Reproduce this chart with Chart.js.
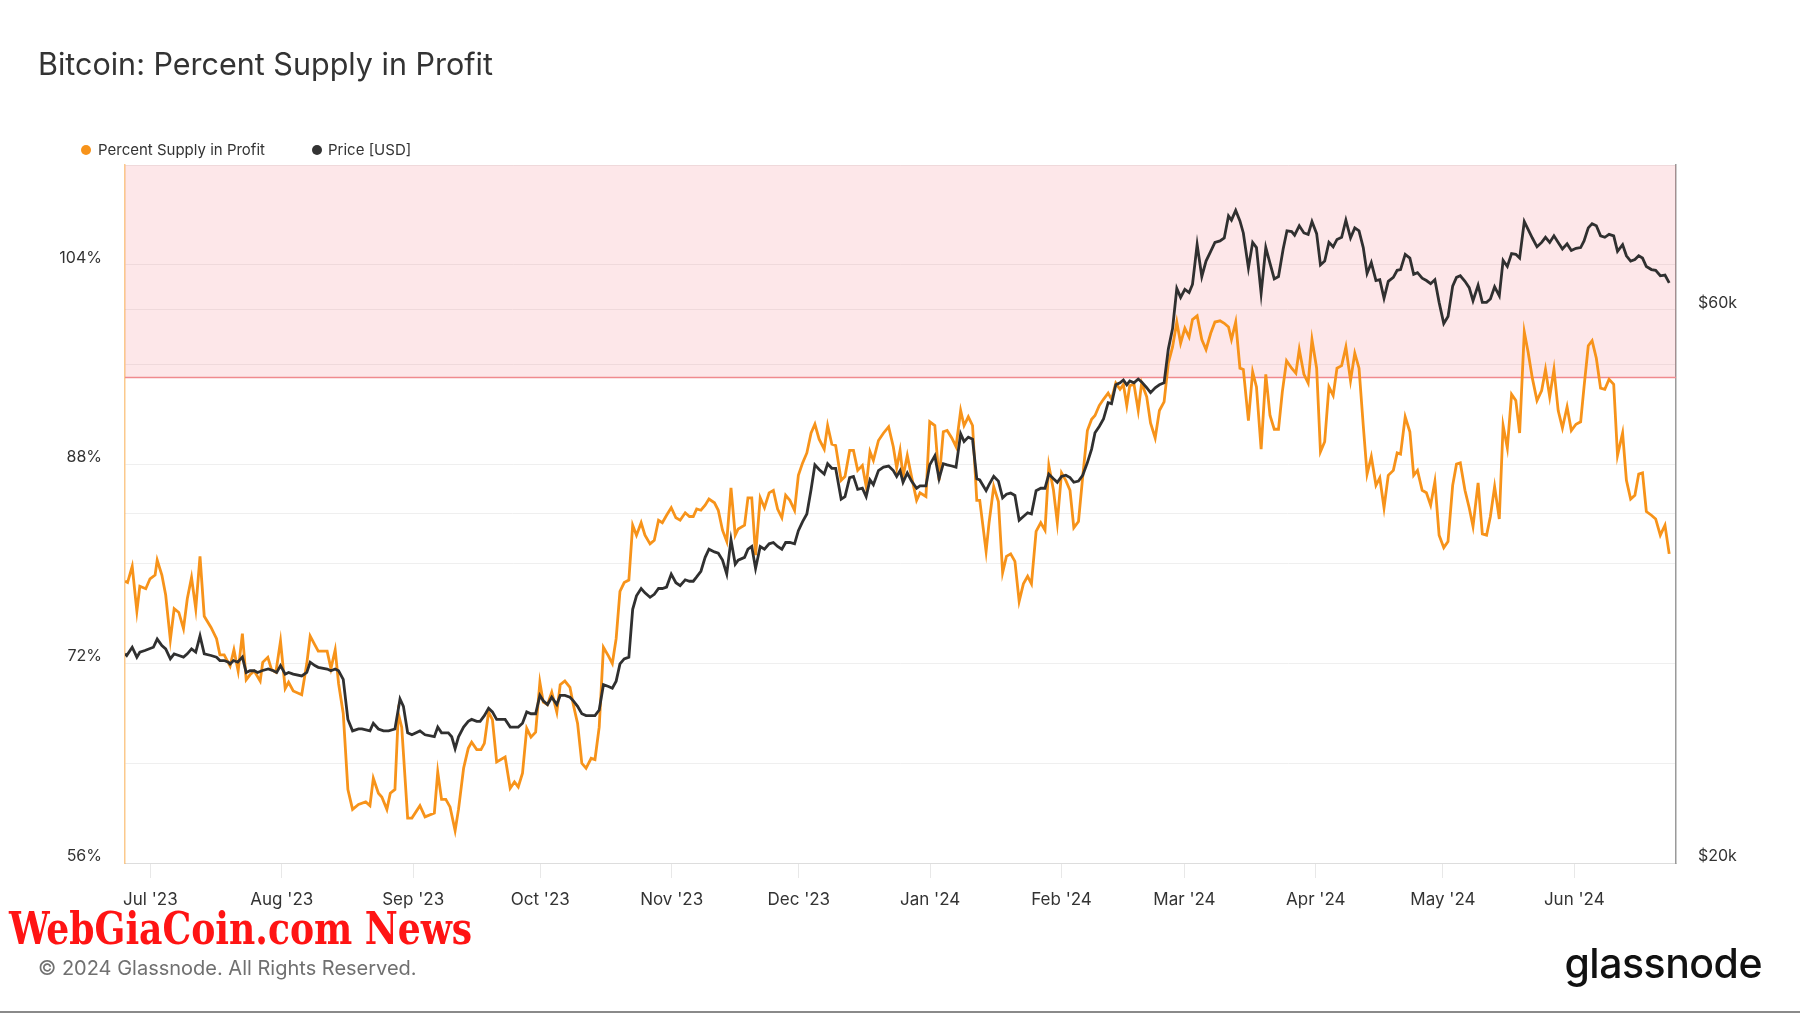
<!DOCTYPE html>
<html lang="en">
<head>
  <meta charset="UTF-8" />
  <title>Bitcoin: Percent Supply in Profit</title>
  <script src="https://cdn.jsdelivr.net/npm/chart.js"></script>
  <style>
    * { margin: 0; padding: 0; box-sizing: border-box; }
    body {
      width: 1800px; height: 1013px; overflow: hidden; position: relative;
      background: #fff; font-family: "Inter", sans-serif; color: #333;
    }
    #chart { position: absolute; left: 0; top: 0; }
    .title { position: absolute; left: 38px; top: 49px; font-size: 30.5px; line-height: 1; color: #333; }
    .legend-item { position: absolute; top: 142px; font-size: 15px; line-height: 1; color: #333; white-space: nowrap; }
    .dot { position: absolute; width: 10px; height: 10px; border-radius: 50%; top: 145px; }
    .watermark {
      position: absolute; left: 9px; top: 906px; font-family: "DejaVu Serif Condensed", "DejaVu Serif", serif;
      font-weight: bold; font-size: 45px; line-height: 1; color: #ff1414; white-space: nowrap; transform-origin: left top;
    }
    .copyright { position: absolute; left: 38px; top: 958px; font-size: 20px; line-height: 1; color: #707070; }
    .brand { position: absolute; right: 38px; top: 943px; font-size: 41px; line-height: 1; font-weight: 500; color: #111; letter-spacing: -0.5px; }
    .bottom-rule { position: absolute; left: 0; top: 1011px; width: 1800px; height: 2px; background: #8a8a8a; }
  </style>
</head>
<body>
  <canvas id="chart" width="1800" height="1013"></canvas>

  <div class="title">Bitcoin: Percent Supply in Profit</div>
  <span class="dot" style="left:81px;background:#f7931a"></span>
  <div class="legend-item" style="left:98px">Percent Supply in Profit</div>
  <span class="dot" style="left:312px;background:#333"></span>
  <div class="legend-item" style="left:328px">Price [USD]</div>

  <div class="watermark" id="wm">WebGiaCoin.com News</div>
  <div class="copyright">© 2024 Glassnode. All Rights Reserved.</div>
  <div class="brand">glassnode</div>
  <div class="bottom-rule"></div>

  <script>
    // days counted from 2023-06-25
    const START = Date.UTC(2023, 5, 25);

    const tickDates = ["2023-07-01", "2023-08-01", "2023-09-01", "2023-10-01", "2023-11-01", "2023-12-01",
                       "2024-01-01", "2024-02-01", "2024-03-01", "2024-04-01", "2024-05-01", "2024-06-01"];
    const monthLabels = ["Jul '23", "Aug '23", "Sep '23", "Oct '23", "Nov '23", "Dec '23",
                         "Jan '24", "Feb '24", "Mar '24", "Apr '24", "May '24", "Jun '24"];

    const pctTicks = [56, 64, 72, 80, 88, 96, 104, 112];
    const pctLabelled = [56, 72, 88, 104];
    const priceTicksK = [20, 40, 60];
    const priceLabelledK = [20, 60];
    const bandFrom = 95;

    const supplyDay = [
      0, 0.6, 1.7, 2.8, 3.5, 4.9, 5.9, 7.1, 7.6, 8.7,
      9.6, 10.7, 11.6, 12.7, 13.8, 14.7, 15.7, 16.7, 17.7, 18.7,
      20.3, 21.6, 22.4, 23.4, 24.8, 25.7, 26.7, 27.7, 28.6, 29.5,
      30.5, 31.9, 32.5, 33.7, 34.6, 35.6, 36.7, 37.8, 38.6, 39.7,
      41.7, 42.9, 43.7, 44.8, 45.6, 47.7, 48.6, 49.6, 50.4, 51.5,
      52.6, 53.7, 55.1, 56.8, 57.8, 58.6, 59.8, 60.6, 61.8, 62.6,
      63.7, 64.5, 65.3, 66.7, 67.7, 69.6, 70.8, 73.0, 73.8, 74.7,
      75.7, 76.7, 77.9, 78.7, 79.9, 81.0, 81.8, 83.0, 84.0, 84.8,
      85.8, 86.7, 87.7, 89.7, 90.9, 91.9, 92.8, 93.8, 94.8, 95.8,
      96.9, 97.9, 98.7, 99.7, 100.7, 101.9, 102.7, 103.8, 105.0, 105.8,
      106.8, 107.8, 108.8, 110.0, 110.9, 111.9, 112.9, 114.1, 115.0, 115.9,
      116.8, 117.8, 118.9, 119.8, 120.7, 121.8, 122.7, 123.9, 124.9, 125.9,
      126.8, 127.8, 128.9, 130.0, 131.0, 132.2, 133.2, 134.1, 134.9, 135.9,
      136.9, 137.8, 139.1, 140.0, 141.0, 142.0, 143.0, 144.0, 144.7, 146.2,
      147.0, 147.9, 148.8, 149.9, 150.9, 152.0, 153.0, 154.0, 155.0, 155.9,
      156.9, 158.0, 158.9, 159.9, 160.9, 161.9, 162.8, 163.8, 165.0, 165.8,
      166.8, 167.7, 169.0, 169.9, 171.0, 171.9, 172.9, 174.0, 174.9, 175.8,
      176.6, 177.8, 179.0, 180.2, 181.3, 182.1, 182.9, 183.6, 184.6, 185.6,
      186.8, 187.6, 189.0, 189.9, 191.1, 192.1, 193.1, 194.0, 195.1, 196.1,
      197.2, 198.0, 199.0, 200.0, 201.0, 201.7, 203.2, 203.9, 205.0, 206.1,
      207.1, 208.0, 209.0, 210.0, 211.0, 212.0, 213.0, 213.9, 215.0, 216.1,
      217.1, 218.0, 219.1, 220.0, 221.0, 222.0, 223.0, 223.9, 225.0, 226.0,
      227.1, 228.1, 228.9, 229.9, 230.9, 232.0, 232.8, 233.8, 234.8, 235.6,
      236.4, 237.1, 238.1, 239.1, 239.9, 241.1, 242.0, 243.1, 244.1, 245.2,
      246.2, 247.2, 248.2, 249.1, 250.1, 251.1, 251.9, 253.0, 254.1, 255.1,
      256.2, 257.2, 258.4, 259.4, 260.4, 261.1, 262.1, 263.1, 263.9, 265.1,
      266.1, 267.0, 268.1, 269.2, 270.2, 271.2, 272.2, 273.1, 274.1, 275.3,
      276.3, 277.1, 278.2, 279.2, 280.1, 281.2, 282.1, 283.1, 284.1, 285.1,
      286.0, 287.1, 288.1, 289.2, 290.2, 291.2, 292.2, 293.1, 294.1, 295.2,
      296.1, 297.1, 298.1, 299.3, 300.2, 301.0, 302.1, 303.2, 304.1, 305.0,
      306.1, 307.1, 308.1, 309.1, 310.1, 311.2, 312.2, 313.3, 314.2, 315.1,
      316.2, 317.2, 318.1, 319.3, 320.3, 321.3, 322.2, 323.2, 324.3, 325.2,
      326.2, 327.2, 328.2, 329.1, 330.2, 331.1, 332.1, 333.2, 334.3, 335.2,
      336.2, 337.2, 338.2, 339.2, 340.3, 341.3, 342.4, 343.5, 344.3, 345.3,
      346.2, 347.2, 348.2, 349.2, 350.2, 351.3, 352.2, 353.4, 354.3, 355.3,
      356.3, 357.2, 358.1, 359.0, 360.2, 361.2, 362.3, 363.4, 364.4
    ];
    const supplyPct = [
      78.6, 78.5, 79.8, 76.2, 78.2, 78.0, 78.8, 79.1, 80.3, 79.1,
      77.5, 73.9, 76.4, 76.1, 74.8, 77.2, 78.9, 76.4, 80.6, 75.8,
      74.9, 74.0, 72.7, 72.7, 71.8, 73.1, 71.4, 74.4, 70.7, 71.1,
      71.4, 70.6, 72.1, 72.5, 71.5, 71.3, 73.8, 70.0, 70.5, 69.8,
      69.5, 72.0, 74.2, 73.5, 73.0, 73.0, 71.6, 73.1, 70.4, 68.0,
      61.9, 60.3, 60.7, 60.9, 60.6, 62.8, 61.6, 61.3, 60.3, 61.6,
      61.9, 68.0, 66.9, 59.6, 59.6, 60.6, 59.7, 60.0, 63.3, 61.1,
      61.1, 60.5, 58.6, 60.3, 63.6, 65.2, 65.7, 65.1, 65.1, 65.6,
      68.1, 67.5, 64.1, 64.5, 62.0, 62.5, 62.1, 63.2, 66.8, 66.1,
      66.5, 70.5, 68.9, 68.7, 69.7, 68.1, 70.3, 70.6, 70.1, 68.7,
      67.2, 64.0, 63.6, 64.4, 64.3, 66.9, 73.3, 72.6, 72.0, 74.0,
      77.8, 78.5, 78.7, 83.1, 82.3, 83.3, 82.3, 81.6, 81.9, 83.5,
      83.3, 83.9, 84.5, 83.7, 83.5, 84.1, 83.8, 83.8, 84.4, 84.3,
      84.7, 85.2, 84.9, 84.3, 82.7, 81.8, 86.1, 82.3, 82.8, 83.1,
      85.3, 85.3, 80.7, 85.3, 84.5, 85.7, 85.9, 84.4, 83.7, 85.5,
      85.1, 84.3, 87.1, 88.1, 88.9, 90.5, 91.2, 90.0, 89.2, 91.1,
      89.6, 89.5, 86.7, 87.0, 89.1, 89.1, 87.5, 87.9, 86.2, 89.0,
      88.3, 89.9, 90.5, 91.0, 89.4, 87.7, 89.1, 87.0, 88.7, 87.0,
      85.1, 85.7, 85.4, 91.4, 91.1, 86.7, 90.6, 90.7, 90.1, 89.4,
      92.3, 91.1, 91.8, 91.1, 85.1, 85.1, 81.0, 83.3, 86.2, 85.0,
      79.3, 80.6, 80.8, 80.2, 77.0, 78.4, 79.0, 78.4, 82.6, 83.3,
      82.7, 87.9, 85.9, 83.3, 87.3, 86.7, 85.9, 82.9, 83.4, 87.0,
      90.7, 91.6, 91.9, 92.7, 93.2, 93.7, 93.2, 94.5, 94.0, 94.4,
      92.7, 94.3, 94.4, 92.3, 94.5, 93.4, 91.3, 90.1, 92.3, 93.0,
      96.1, 97.4, 99.4, 97.7, 98.9, 98.2, 99.6, 99.9, 98.0, 97.2,
      98.5, 99.4, 99.5, 99.3, 99.0, 98.0, 99.4, 95.7, 95.6, 91.5,
      95.4, 94.2, 89.2, 95.2, 91.9, 90.8, 90.8, 93.8, 96.3, 95.7,
      95.3, 97.2, 95.2, 94.5, 98.0, 95.7, 89.0, 89.8, 94.2, 93.5,
      95.7, 95.9, 97.4, 94.7, 96.9, 95.7, 91.1, 87.2, 88.6, 86.3,
      86.9, 84.5, 87.1, 87.5, 88.9, 88.8, 91.8, 90.6, 87.1, 87.5,
      85.9, 85.7, 84.7, 86.6, 82.3, 81.3, 81.8, 86.3, 88.0, 88.1,
      85.9, 84.5, 83.0, 86.5, 82.4, 82.3, 83.8, 86.2, 83.6, 91.1,
      89.3, 93.6, 93.1, 90.5, 98.6, 97.0, 94.9, 93.1, 93.9, 95.6,
      93.4, 95.6, 92.3, 90.9, 92.6, 90.7, 91.2, 91.4, 94.2, 97.5,
      97.9, 96.5, 94.1, 94.0, 94.8, 94.4, 88.7, 90.5, 86.7, 85.2,
      85.5, 87.2, 87.3, 84.2, 83.9, 83.6, 82.3, 83.1, 80.8
    ];

    const priceDay = [
      0, 0.4, 1.7, 2.8, 3.5, 4.7, 6.7, 7.6, 8.7, 9.6,
      10.7, 11.6, 12.7, 13.8, 14.7, 15.7, 16.7, 17.7, 18.7, 20.3,
      21.6, 22.4, 23.4, 24.4, 24.8, 25.6, 26.6, 27.7, 28.6, 29.5,
      30.5, 31.3, 32.3, 33.8, 35.0, 35.8, 36.7, 37.8, 38.6, 39.7,
      41.7, 42.9, 43.7, 44.8, 45.6, 47.7, 48.6, 49.6, 50.4, 51.5,
      52.6, 53.7, 55.1, 55.9, 57.8, 58.6, 59.8, 61.0, 62.2, 63.7,
      64.9, 65.7, 66.7, 67.7, 69.6, 70.8, 73.0, 73.8, 74.7, 76.3,
      77.1, 77.9, 78.7, 79.9, 81.0, 81.8, 83.0, 83.8, 84.8, 85.8,
      86.7, 87.7, 89.7, 90.9, 91.9, 92.8, 93.8, 94.8, 95.8, 96.9,
      97.9, 98.7, 99.7, 100.7, 101.9, 102.7, 103.8, 105.0, 105.8, 106.8,
      107.8, 108.8, 110.0, 110.9, 111.9, 112.9, 114.1, 115.0, 115.9, 116.8,
      117.8, 118.9, 119.8, 120.7, 121.8, 122.7, 123.9, 124.9, 125.9, 126.8,
      127.8, 128.9, 130.0, 131.0, 132.2, 133.2, 134.1, 134.9, 135.9, 136.9,
      137.8, 139.1, 140.0, 141.0, 142.0, 143.0, 144.0, 144.7, 146.2, 147.0,
      147.9, 148.8, 149.9, 150.9, 152.0, 153.0, 154.0, 155.0, 155.9, 156.9,
      158.0, 158.9, 159.9, 160.9, 161.9, 162.8, 163.8, 165.0, 165.8, 166.8,
      167.7, 169.0, 169.9, 171.0, 171.9, 172.9, 174.0, 174.9, 175.8, 176.6,
      177.8, 179.0, 180.2, 181.3, 182.1, 182.9, 183.6, 184.6, 185.6, 186.8,
      187.6, 189.0, 189.9, 191.1, 192.1, 193.1, 194.0, 195.1, 196.1, 197.2,
      198.0, 199.0, 200.0, 201.0, 201.7, 203.2, 203.9, 205.0, 206.1, 207.1,
      208.0, 209.0, 210.0, 211.0, 212.0, 213.0, 213.9, 215.0, 216.1, 217.1,
      218.0, 219.1, 220.0, 221.0, 222.0, 223.0, 223.9, 225.0, 226.0, 227.1,
      228.1, 228.9, 229.9, 230.9, 232.0, 232.8, 233.8, 234.8, 235.6, 236.4,
      237.1, 238.1, 239.1, 239.9, 241.1, 242.0, 243.1, 244.1, 245.2, 246.2,
      247.2, 248.2, 249.1, 250.1, 251.1, 251.9, 253.0, 254.1, 255.1, 256.2,
      257.2, 258.4, 259.4, 260.4, 261.1, 262.1, 263.1, 263.9, 265.1, 266.1,
      267.0, 268.1, 269.2, 270.2, 271.2, 272.2, 273.3, 274.2, 275.3, 276.0,
      277.1, 278.2, 279.2, 280.1, 281.2, 282.1, 283.1, 284.1, 285.1, 286.0,
      287.1, 288.1, 289.2, 290.2, 291.2, 292.2, 293.1, 294.1, 295.2, 296.1,
      297.1, 298.1, 299.3, 300.2, 301.0, 302.1, 303.2, 304.1, 305.0, 306.1,
      307.1, 308.1, 309.1, 310.1, 311.2, 312.2, 313.3, 314.2, 315.1, 316.2,
      317.2, 318.1, 319.3, 320.3, 321.3, 322.2, 323.2, 324.3, 325.2, 326.2,
      327.2, 328.2, 329.1, 330.2, 331.1, 332.1, 333.2, 334.3, 335.2, 336.2,
      337.2, 338.2, 339.2, 340.3, 341.3, 342.4, 343.5, 344.3, 345.3, 346.2,
      347.2, 348.2, 349.2, 350.2, 351.3, 352.2, 353.4, 354.3, 355.3, 356.3,
      357.2, 358.1, 359.0, 360.2, 361.2, 362.3, 363.4, 364.4
    ];
    // thousands of USD
    const priceK = [
      30.3, 30.2, 30.7, 30.1, 30.4, 30.5, 30.7, 31.2, 30.8, 30.6,
      30.0, 30.3, 30.2, 30.1, 30.3, 30.6, 30.4, 31.4, 30.3, 30.2,
      30.1, 29.9, 29.9, 29.8, 29.7, 29.9, 29.8, 30.1, 29.2, 29.3,
      29.3, 29.2, 29.3, 29.4, 29.3, 29.2, 29.6, 29.1, 29.2, 29.1,
      29.0, 29.2, 29.8, 29.6, 29.5, 29.4, 29.3, 29.4, 29.3, 28.8,
      26.6, 26.0, 26.1, 26.1, 26.0, 26.4, 26.1, 26.0, 26.0, 26.1,
      27.7, 27.3, 25.9, 25.8, 26.0, 25.8, 25.7, 26.2, 25.9, 25.9,
      25.7, 25.1, 25.7, 26.2, 26.5, 26.6, 26.5, 26.5, 26.8, 27.2,
      27.0, 26.6, 26.6, 26.2, 26.2, 26.2, 26.4, 27.0, 26.9, 26.9,
      27.9, 27.6, 27.4, 27.8, 27.4, 27.9, 27.9, 27.8, 27.6, 27.3,
      26.9, 26.8, 26.8, 26.8, 27.1, 28.5, 28.4, 28.3, 28.7, 29.7,
      30.0, 30.1, 33.1, 34.0, 34.5, 34.2, 33.9, 34.1, 34.5, 34.5,
      34.6, 35.5, 34.9, 34.7, 35.1, 35.0, 35.0, 35.3, 35.7, 36.7,
      37.3, 37.1, 37.0, 36.5, 35.5, 38.0, 36.2, 36.5, 36.7, 37.3,
      37.5, 35.9, 37.5, 37.3, 37.7, 37.8, 37.5, 37.3, 37.8, 37.8,
      37.7, 38.7, 39.4, 40.0, 42.0, 44.1, 43.7, 43.3, 44.2, 43.8,
      43.8, 41.2, 41.4, 43.0, 43.1, 42.0, 42.1, 41.4, 42.8, 42.4,
      43.6, 43.9, 44.0, 43.6, 43.1, 43.6, 42.6, 43.4, 42.7, 42.1,
      42.3, 42.3, 44.1, 44.9, 42.9, 44.2, 44.1, 44.0, 43.9, 46.9,
      46.2, 46.6, 46.4, 42.9, 42.8, 41.9, 42.4, 43.1, 42.7, 41.3,
      41.6, 41.7, 41.5, 39.5, 39.8, 40.1, 40.0, 41.9, 42.1, 42.1,
      43.3, 42.9, 42.6, 43.1, 43.2, 43.0, 42.6, 42.7, 43.2, 44.3,
      45.5, 47.0, 47.6, 48.3, 49.9, 49.8, 51.7, 51.9, 52.2, 51.7,
      52.1, 51.9, 52.3, 52.0, 51.4, 50.9, 51.4, 51.7, 51.9, 55.5,
      57.8, 62.6, 61.5, 62.5, 62.1, 63.1, 68.3, 64.1, 66.1, 67.4,
      68.6, 68.8, 69.2, 72.3, 71.7, 73.1, 71.6, 69.9, 65.2, 68.6,
      67.9, 62.0, 67.9, 65.8, 63.8, 64.1, 67.7, 70.2, 70.1, 69.6,
      70.9, 69.9, 69.7, 71.5, 69.8, 65.6, 66.1, 68.6, 68.0, 69.0,
      69.3, 71.7, 69.2, 70.6, 70.2, 67.9, 64.5, 65.9, 63.6, 63.7,
      61.4, 63.5, 64.0, 64.9, 65.0, 67.0, 66.5, 64.4, 64.6, 63.9,
      63.6, 63.2, 63.7, 60.9, 58.4, 59.2, 62.9, 64.0, 64.2, 63.5,
      62.7, 61.1, 63.0, 60.9, 60.9, 61.3, 62.8, 61.7, 66.2, 65.4,
      67.1, 67.0, 66.5, 71.5, 70.4, 69.2, 68.0, 68.6, 69.3, 68.6,
      69.5, 68.6, 67.7, 68.4, 67.5, 67.8, 67.9, 68.8, 70.6, 71.2,
      70.9, 69.5, 69.3, 69.7, 69.5, 67.4, 68.3, 66.8, 66.1, 66.3,
      66.8, 66.5, 65.4, 65.0, 64.9, 64.2, 64.3, 63.3
    ];

    const tickDays = tickDates.map(d => (Date.parse(d + "T00:00:00Z") - START) / 86400000);

    // pink zone above the threshold, with its red boundary line
    const thresholdBand = {
      id: "thresholdBand",
      beforeDatasetsDraw(chart) {
        const { ctx, chartArea: a, scales } = chart;
        const yT = Math.round(scales.y.getPixelForValue(bandFrom)) + 0.5;
        ctx.save();
        ctx.fillStyle = "rgba(235, 60, 70, 0.12)";
        ctx.fillRect(a.left, a.top, a.right - a.left, yT - a.top);
        ctx.strokeStyle = "#f08a8e";
        ctx.lineWidth = 1.5;
        ctx.beginPath();
        ctx.moveTo(a.left, yT);
        ctx.lineTo(a.right, yT);
        ctx.stroke();
        ctx.restore();
      }
    };

    const gridColor = "#efefef";

    new Chart(document.getElementById("chart"), {
      type: "line",
      data: {
        datasets: [
          {
            label: "Price [USD]",
            data: priceDay.map((d, i) => ({ x: d, y: priceK[i] })),
            yAxisID: "y2",
            borderColor: "#303030",
            borderWidth: 2.8,
            pointRadius: 0,
            tension: 0,
            order: 0,
          },
          {
            label: "Percent Supply in Profit",
            data: supplyDay.map((d, i) => ({ x: d, y: supplyPct[i] })),
            yAxisID: "y",
            borderColor: "#f7931a",
            borderWidth: 2.8,
            pointRadius: 0,
            tension: 0,
            order: 1,
          },
        ],
      },
      options: {
        responsive: false,
        animation: false,
        layout: { padding: { top: 165, left: 0, right: 0, bottom: 0 } },
        plugins: { legend: { display: false }, tooltip: { enabled: false }, title: { display: false } },
        scales: {
          x: {
            type: "linear",
            min: 0,
            max: 366,
            afterBuildTicks: s => { s.ticks = tickDays.map(v => ({ value: v })); },
            afterFit: s => { s.height = 150; },
            grid: { display: true, drawOnChartArea: false, drawTicks: true, tickLength: 15, color: "#e8e8e8" },
            border: { display: true, color: "#dddddd" },
            ticks: {
              autoSkip: false, maxRotation: 0, padding: 12,
              color: "#333", font: { family: "Inter", size: 17 },
              callback: (v, i) => monthLabels[i],
            },
          },
          y: {
            type: "linear",
            position: "left",
            min: 56,
            max: 112,
            afterBuildTicks: s => { s.ticks = pctTicks.map(v => ({ value: v })); },
            afterFit: s => { s.width = 125; },
            grid: { color: gridColor, drawTicks: false },
            border: { display: true, color: "rgba(247, 147, 26, 0.5)", width: 1.5 },
            ticks: {
              padding: 23, labelOffset: -7, color: "#333",
              font: { family: "Inter", size: 16 },
              callback: v => (pctLabelled.includes(v) ? v + "%" : ""),
            },
          },
          y2: {
            type: "logarithmic",
            position: "right",
            min: 20,
            max: 80,
            afterBuildTicks: s => { s.ticks = priceTicksK.map(v => ({ value: v })); },
            afterFit: s => { s.width = 124; },
            grid: { color: gridColor, drawTicks: false },
            border: { display: true, color: "#9a9a9a", width: 1.5 },
            ticks: {
              padding: 22, labelOffset: -7, color: "#333",
              font: { family: "Inter", size: 16 },
              callback: v => (priceLabelledK.includes(v) ? "$" + v + "k" : ""),
            },
          },
        },
      },
      plugins: [thresholdBand],
    });

    // squeeze the watermark to its width in the picture
    const wm = document.getElementById("wm");
    wm.style.transform = "scaleX(" + (463 / wm.scrollWidth) + ")";
  </script>
</body>
</html>
